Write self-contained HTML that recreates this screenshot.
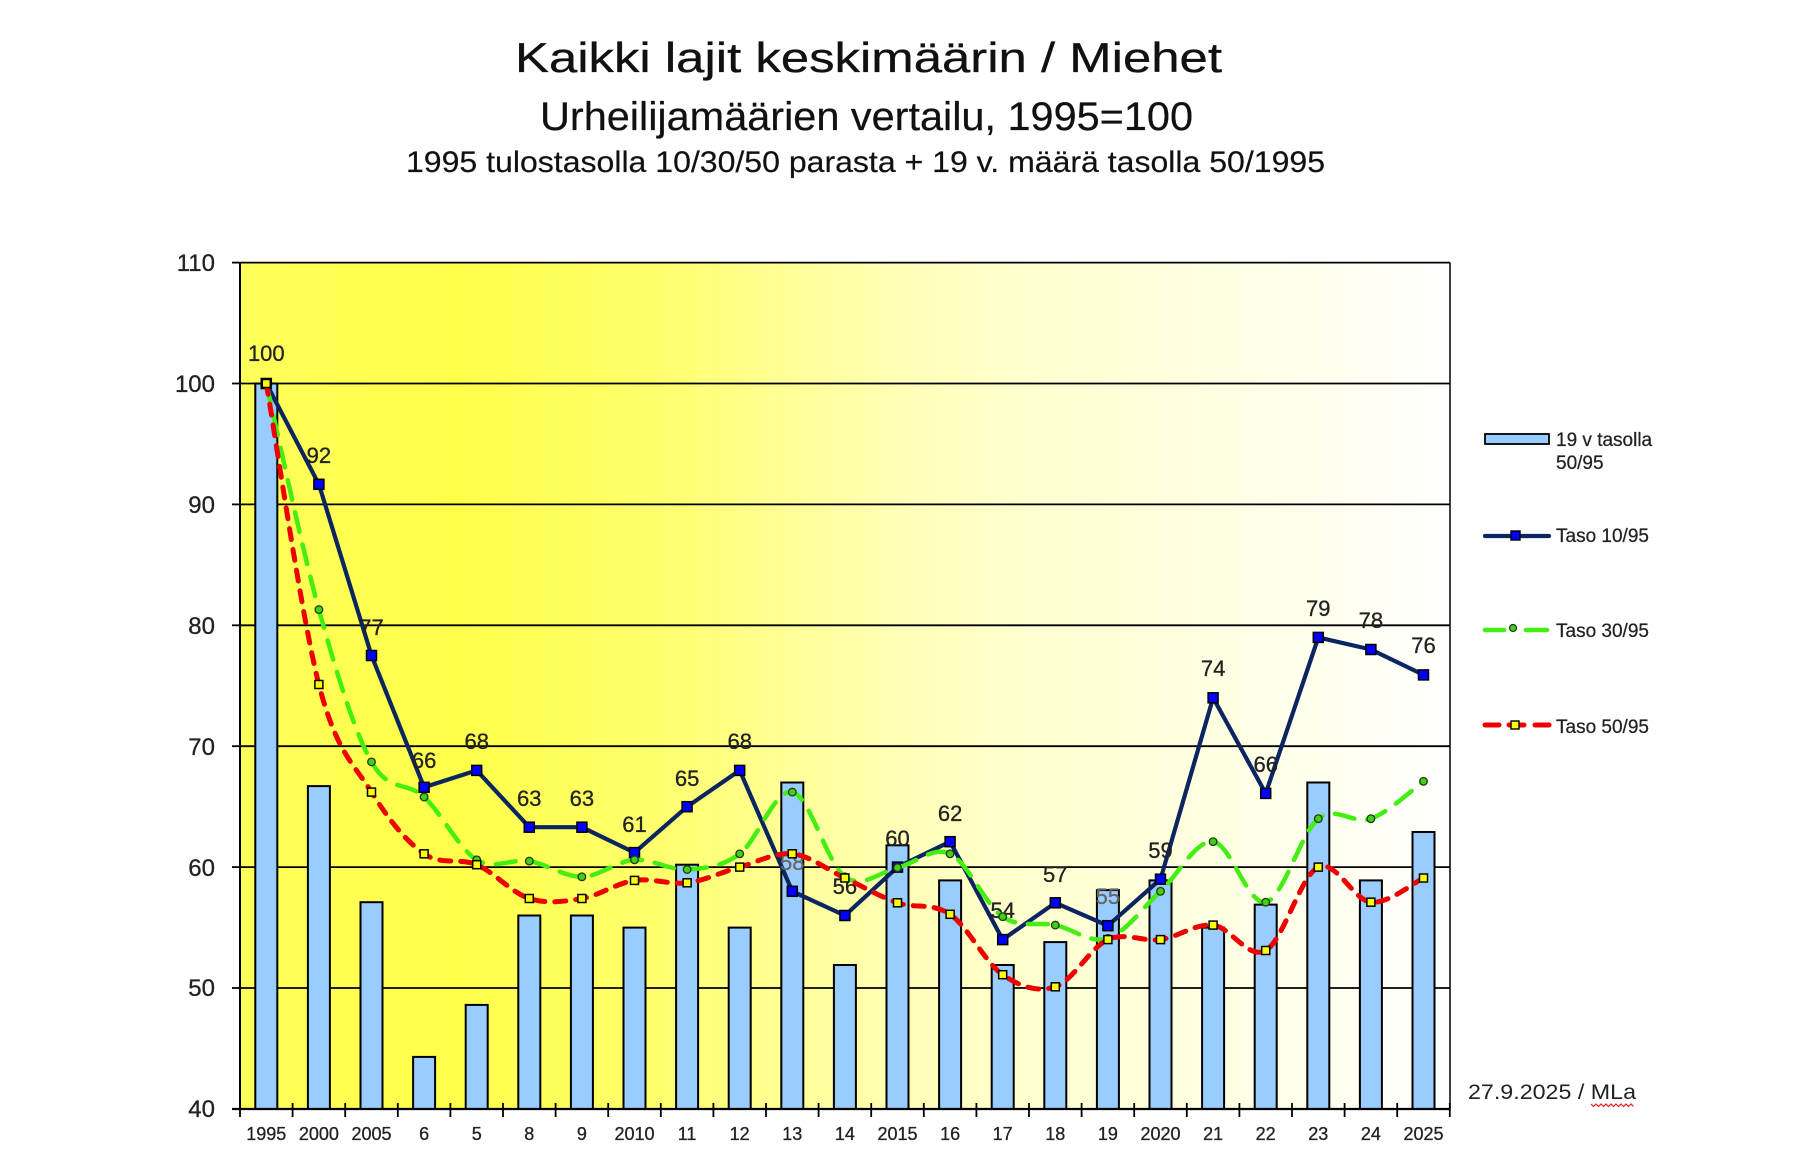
<!DOCTYPE html>
<html>
<head>
<meta charset="utf-8">
<style>
html,body{margin:0;padding:0;background:#fff;}
svg{display:block;}
text{font-family:"Liberation Sans",Arial,sans-serif;}
</style>
</head>
<body>
<svg width="1794" height="1165" viewBox="0 0 1794 1165" xmlns="http://www.w3.org/2000/svg">
<defs>
<linearGradient id="bg" x1="0" y1="0" x2="1" y2="0">
<stop offset="0" stop-color="#FFFF5A"/>
<stop offset="0.18" stop-color="#FFFF4A"/>
<stop offset="0.35" stop-color="#FFFF6E"/>
<stop offset="0.45" stop-color="#FFFF96"/>
<stop offset="0.55" stop-color="#FFFFB8"/>
<stop offset="0.65" stop-color="#FFFFCF"/>
<stop offset="0.78" stop-color="#FFFFDF"/>
<stop offset="0.9" stop-color="#FFFFEF"/>
<stop offset="1" stop-color="#FFFFFF"/>
</linearGradient>
</defs>

<!-- Titles -->
<text x="515" y="72" font-size="42" fill="#111" stroke="#111" stroke-width="0.3" textLength="707" lengthAdjust="spacingAndGlyphs">Kaikki lajit keskimäärin / Miehet</text>
<text x="540" y="130" font-size="40" fill="#111" stroke="#111" stroke-width="0.25" textLength="653" lengthAdjust="spacingAndGlyphs">Urheilijamäärien vertailu, 1995=100</text>
<text x="406" y="172" font-size="30" fill="#111" stroke="#111" stroke-width="0.2" textLength="919" lengthAdjust="spacingAndGlyphs">1995 tulostasolla 10/30/50 parasta + 19 v. määrä tasolla 50/1995</text>

<!-- Plot background -->
<rect x="240" y="262.6" width="1210" height="846.4" fill="url(#bg)"/>

<!-- Gridlines -->
<g stroke="#000" stroke-width="1.8">
<line x1="240" y1="262.6" x2="1450" y2="262.6"/>
<line x1="240" y1="383.5" x2="1450" y2="383.5"/>
<line x1="240" y1="504.4" x2="1450" y2="504.4"/>
<line x1="240" y1="625.3" x2="1450" y2="625.3"/>
<line x1="240" y1="746.2" x2="1450" y2="746.2"/>
<line x1="240" y1="867.1" x2="1450" y2="867.1"/>
<line x1="240" y1="988.0" x2="1450" y2="988.0"/>
</g>
<line x1="1450" y1="262.6" x2="1450" y2="1109" stroke="#000" stroke-width="1.5"/>

<!-- Bars -->
<g fill="#99CCFF" stroke="#000" stroke-width="2">
<rect x="255.3" y="383.5" width="22" height="725.5"/>
<rect x="307.9" y="786.1" width="22" height="322.9"/>
<rect x="360.5" y="902.2" width="22" height="206.8"/>
<rect x="413.1" y="1056.9" width="22" height="52.1"/>
<rect x="465.7" y="1004.9" width="22" height="104.1"/>
<rect x="518.3" y="915.5" width="22" height="193.5"/>
<rect x="570.9" y="915.5" width="22" height="193.5"/>
<rect x="623.5" y="927.6" width="22" height="181.4"/>
<rect x="676.1" y="864.7" width="22" height="244.3"/>
<rect x="728.7" y="927.6" width="22" height="181.4"/>
<rect x="781.3" y="782.5" width="22" height="326.5"/>
<rect x="833.9" y="965.0" width="22" height="144.0"/>
<rect x="886.5" y="845.3" width="22" height="263.7"/>
<rect x="939.1" y="880.4" width="22" height="228.6"/>
<rect x="991.7" y="965.0" width="22" height="144.0"/>
<rect x="1044.3" y="942.1" width="22" height="166.9"/>
<rect x="1096.9" y="890.1" width="22" height="218.9"/>
<rect x="1149.5" y="880.4" width="22" height="228.6"/>
<rect x="1202.1" y="927.6" width="22" height="181.4"/>
<rect x="1254.7" y="904.6" width="22" height="204.4"/>
<rect x="1307.3" y="782.5" width="22" height="326.5"/>
<rect x="1359.9" y="880.4" width="22" height="228.6"/>
<rect x="1412.5" y="832.0" width="22" height="277.0"/>
</g>

<!-- Axes -->
<line x1="240" y1="262.6" x2="240" y2="1109" stroke="#000" stroke-width="2"/>
<line x1="232" y1="1109" x2="1450" y2="1109" stroke="#000" stroke-width="2.2"/>
<g stroke="#000" stroke-width="1.8">
<line x1="232" y1="262.6" x2="240" y2="262.6"/>
<line x1="232" y1="383.5" x2="240" y2="383.5"/>
<line x1="232" y1="504.4" x2="240" y2="504.4"/>
<line x1="232" y1="625.3" x2="240" y2="625.3"/>
<line x1="232" y1="746.2" x2="240" y2="746.2"/>
<line x1="232" y1="867.1" x2="240" y2="867.1"/>
<line x1="232" y1="988.0" x2="240" y2="988.0"/>
<line x1="240" y1="1103" x2="240" y2="1117"/>
<line x1="292.6" y1="1103" x2="292.6" y2="1117"/>
<line x1="345.2" y1="1103" x2="345.2" y2="1117"/>
<line x1="397.8" y1="1103" x2="397.8" y2="1117"/>
<line x1="450.4" y1="1103" x2="450.4" y2="1117"/>
<line x1="503" y1="1103" x2="503" y2="1117"/>
<line x1="555.6" y1="1103" x2="555.6" y2="1117"/>
<line x1="608.2" y1="1103" x2="608.2" y2="1117"/>
<line x1="660.8" y1="1103" x2="660.8" y2="1117"/>
<line x1="713.4" y1="1103" x2="713.4" y2="1117"/>
<line x1="766" y1="1103" x2="766" y2="1117"/>
<line x1="818.6" y1="1103" x2="818.6" y2="1117"/>
<line x1="871.2" y1="1103" x2="871.2" y2="1117"/>
<line x1="923.8" y1="1103" x2="923.8" y2="1117"/>
<line x1="976.4" y1="1103" x2="976.4" y2="1117"/>
<line x1="1029" y1="1103" x2="1029" y2="1117"/>
<line x1="1081.6" y1="1103" x2="1081.6" y2="1117"/>
<line x1="1134.2" y1="1103" x2="1134.2" y2="1117"/>
<line x1="1186.8" y1="1103" x2="1186.8" y2="1117"/>
<line x1="1239.4" y1="1103" x2="1239.4" y2="1117"/>
<line x1="1292" y1="1103" x2="1292" y2="1117"/>
<line x1="1344.6" y1="1103" x2="1344.6" y2="1117"/>
<line x1="1397.2" y1="1103" x2="1397.2" y2="1117"/>
<line x1="1449.8" y1="1103" x2="1449.8" y2="1117"/>
</g>

<!-- Y labels -->
<g font-size="24" fill="#222" stroke="#222" stroke-width="0.3" text-anchor="end">
<text x="215" y="271">110</text>
<text x="215" y="392">100</text>
<text x="215" y="513">90</text>
<text x="215" y="634">80</text>
<text x="215" y="755">70</text>
<text x="215" y="876">60</text>
<text x="215" y="996">50</text>
<text x="215" y="1117">40</text>
</g>

<!-- X labels -->
<g font-size="18" fill="#222" stroke="#222" stroke-width="0.3" text-anchor="middle">
<text x="266.3" y="1140">1995</text>
<text x="318.9" y="1140">2000</text>
<text x="371.5" y="1140">2005</text>
<text x="424.1" y="1140">6</text>
<text x="476.7" y="1140">5</text>
<text x="529.3" y="1140">8</text>
<text x="581.9" y="1140">9</text>
<text x="634.5" y="1140">2010</text>
<text x="687.1" y="1140">11</text>
<text x="739.7" y="1140">12</text>
<text x="792.3" y="1140">13</text>
<text x="844.9" y="1140">14</text>
<text x="897.5" y="1140">2015</text>
<text x="950.1" y="1140">16</text>
<text x="1002.7" y="1140">17</text>
<text x="1055.3" y="1140">18</text>
<text x="1107.9" y="1140">19</text>
<text x="1160.5" y="1140">2020</text>
<text x="1213.1" y="1140">21</text>
<text x="1265.7" y="1140">22</text>
<text x="1318.3" y="1140">23</text>
<text x="1370.9" y="1140">24</text>
<text x="1423.5" y="1140">2025</text>
</g>

<!-- Blue series: Taso 10/95 -->
<polyline fill="none" stroke="#0A2560" stroke-width="4.2" stroke-linejoin="round" points="266.3,383.5 318.9,484.3 371.5,655.5 424.1,787.3 476.7,770.4 529.3,827.2 581.9,827.2 634.5,852.6 687.1,806.7 739.7,770.4 792.3,891.3 844.9,915.5 897.5,867.1 950.1,841.7 1002.7,939.6 1055.3,902.8 1107.9,925.7 1160.5,879.2 1213.1,697.8 1265.7,793.4 1318.3,637.4 1370.9,649.5 1423.5,674.9"/>
<g fill="#0000FF" stroke="#000" stroke-width="1.5">
<rect x="261.3" y="378.5" width="10" height="10"/>
<rect x="313.9" y="479.3" width="10" height="10"/>
<rect x="366.5" y="650.5" width="10" height="10"/>
<rect x="419.1" y="782.3" width="10" height="10"/>
<rect x="471.7" y="765.4" width="10" height="10"/>
<rect x="524.3" y="822.2" width="10" height="10"/>
<rect x="576.9" y="822.2" width="10" height="10"/>
<rect x="629.5" y="847.6" width="10" height="10"/>
<rect x="682.1" y="801.7" width="10" height="10"/>
<rect x="734.7" y="765.4" width="10" height="10"/>
<rect x="787.3" y="886.3" width="10" height="10"/>
<rect x="839.9" y="910.5" width="10" height="10"/>
<rect x="892.5" y="862.1" width="10" height="10"/>
<rect x="945.1" y="836.7" width="10" height="10"/>
<rect x="997.7" y="934.6" width="10" height="10"/>
<rect x="1050.3" y="897.8" width="10" height="10"/>
<rect x="1102.9" y="920.7" width="10" height="10"/>
<rect x="1155.5" y="874.2" width="10" height="10"/>
<rect x="1208.1" y="692.8" width="10" height="10"/>
<rect x="1260.7" y="788.4" width="10" height="10"/>
<rect x="1313.3" y="632.4" width="10" height="10"/>
<rect x="1365.9" y="644.5" width="10" height="10"/>
<rect x="1418.5" y="669.9" width="10" height="10"/>
</g>

<!-- Data labels -->
<g font-size="22" fill="#222" stroke="#222" stroke-width="0.3" text-anchor="middle">
<text x="266.3" y="361">100</text>
<text x="318.9" y="463">92</text>
<text x="371.5" y="635">77</text>
<text x="424.1" y="768">66</text>
<text x="476.7" y="749">68</text>
<text x="529.3" y="806">63</text>
<text x="581.9" y="806">63</text>
<text x="634.5" y="832">61</text>
<text x="687.1" y="786">65</text>
<text x="739.7" y="749">68</text>
<text x="792.3" y="870" fill="#666" stroke="#666">58</text>
<text x="844.9" y="894">56</text>
<text x="897.5" y="846">60</text>
<text x="950.1" y="821">62</text>
<text x="1002.7" y="918">54</text>
<text x="1055.3" y="882">57</text>
<text x="1107.9" y="904" fill="#666" stroke="#666">55</text>
<text x="1160.5" y="858">59</text>
<text x="1213.1" y="676">74</text>
<text x="1265.7" y="772">66</text>
<text x="1318.3" y="616">79</text>
<text x="1370.9" y="628">78</text>
<text x="1423.5" y="653">76</text>
</g>

<!-- Green series: Taso 30/95 -->
<path fill="none" stroke="#44EE11" stroke-width="4.5" stroke-linecap="round" stroke-dasharray="20 13"
d="M266.3,383.5 C275.07,421.18 301.37,546.53 318.9,609.6 C336.43,672.67 353.97,730.67 371.5,761.9 C389.03,793.13 406.57,780.68 424.1,797.0 C441.63,813.32 459.17,849.12 476.7,859.8 C494.23,870.48 511.77,858.27 529.3,861.1 C546.83,863.93 564.37,877.02 581.9,876.8 C599.43,876.58 616.97,861.02 634.5,859.8 C652.03,858.58 669.57,870.5 687.1,869.5 C704.63,868.5 722.17,866.7 739.7,853.8 C757.23,840.9 774.77,788.27 792.3,792.1 C809.83,795.93 827.37,864.2 844.9,876.8 C862.43,889.4 879.97,871.53 897.5,867.7 C915.03,863.87 932.57,845.63 950.1,853.8 C967.63,861.97 985.17,904.82 1002.7,916.7 C1020.23,928.58 1037.77,921.48 1055.3,925.1 C1072.83,928.72 1090.37,944.03 1107.9,938.4 C1125.43,932.77 1142.97,907.42 1160.5,891.3 C1178.03,875.18 1195.57,839.88 1213.1,841.7 C1230.63,843.52 1248.17,906.03 1265.7,902.2 C1283.23,898.37 1300.77,832.62 1318.3,818.7 C1335.83,804.78 1353.37,824.93 1370.9,818.7 C1388.43,812.47 1414.73,787.53 1423.5,781.3"/>
<g fill="#44CC22" stroke="#1A4000" stroke-width="1.3">
<circle cx="266.3" cy="383.5" r="3.8"/>
<circle cx="318.9" cy="609.6" r="3.8"/>
<circle cx="371.5" cy="761.9" r="3.8"/>
<circle cx="424.1" cy="797.0" r="3.8"/>
<circle cx="476.7" cy="859.8" r="3.8"/>
<circle cx="529.3" cy="861.1" r="3.8"/>
<circle cx="581.9" cy="876.8" r="3.8"/>
<circle cx="634.5" cy="859.8" r="3.8"/>
<circle cx="687.1" cy="869.5" r="3.8"/>
<circle cx="739.7" cy="853.8" r="3.8"/>
<circle cx="792.3" cy="792.1" r="3.8"/>
<circle cx="844.9" cy="876.8" r="3.8"/>
<circle cx="897.5" cy="867.7" r="3.8"/>
<circle cx="950.1" cy="853.8" r="3.8"/>
<circle cx="1002.7" cy="916.7" r="3.8"/>
<circle cx="1055.3" cy="925.1" r="3.8"/>
<circle cx="1107.9" cy="938.4" r="3.8"/>
<circle cx="1160.5" cy="891.3" r="3.8"/>
<circle cx="1213.1" cy="841.7" r="3.8"/>
<circle cx="1265.7" cy="902.2" r="3.8"/>
<circle cx="1318.3" cy="818.7" r="3.8"/>
<circle cx="1370.9" cy="818.7" r="3.8"/>
<circle cx="1423.5" cy="781.3" r="3.8"/>
</g>

<!-- Red series: Taso 50/95 -->
<path fill="none" stroke="#EE0000" stroke-width="5" stroke-linecap="round" stroke-dasharray="11 10"
d="M266.3,383.5 C275.07,433.67 301.37,616.4 318.9,684.5 C336.43,752.6 353.97,763.88 371.5,792.1 C389.03,820.32 406.57,841.7 424.1,853.8 C441.63,865.9 459.17,857.25 476.7,864.7 C494.23,872.15 511.77,892.87 529.3,898.5 C546.83,904.13 564.37,901.52 581.9,898.5 C599.43,895.48 616.97,883.02 634.5,880.4 C652.03,877.78 669.57,885.02 687.1,882.8 C704.63,880.58 722.17,871.93 739.7,867.1 C757.23,862.27 774.77,851.98 792.3,853.8 C809.83,855.62 827.37,869.83 844.9,878.0 C862.43,886.17 879.97,896.75 897.5,902.8 C915.03,908.85 932.57,902.32 950.1,914.3 C967.63,926.28 985.17,962.62 1002.7,974.7 C1020.23,986.78 1037.77,992.65 1055.3,986.8 C1072.83,980.95 1090.37,947.47 1107.9,939.6 C1125.43,931.73 1142.97,942.02 1160.5,939.6 C1178.03,937.18 1195.57,923.28 1213.1,925.1 C1230.63,926.92 1248.17,960.17 1265.7,950.5 C1283.23,940.83 1300.77,875.15 1318.3,867.1 C1335.83,859.05 1353.37,900.38 1370.9,902.2 C1388.43,904.02 1414.73,882.03 1423.5,878.0"/>
<g fill="#FFFF00" stroke="#000" stroke-width="1.5">
<rect x="262.3" y="379.5" width="8" height="8"/>
<rect x="314.9" y="680.5" width="8" height="8"/>
<rect x="367.5" y="788.1" width="8" height="8"/>
<rect x="420.1" y="849.8" width="8" height="8"/>
<rect x="472.7" y="860.7" width="8" height="8"/>
<rect x="525.3" y="894.5" width="8" height="8"/>
<rect x="577.9" y="894.5" width="8" height="8"/>
<rect x="630.5" y="876.4" width="8" height="8"/>
<rect x="683.1" y="878.8" width="8" height="8"/>
<rect x="735.7" y="863.1" width="8" height="8"/>
<rect x="788.3" y="849.8" width="8" height="8"/>
<rect x="840.9" y="874.0" width="8" height="8"/>
<rect x="893.5" y="898.8" width="8" height="8"/>
<rect x="946.1" y="910.3" width="8" height="8"/>
<rect x="998.7" y="970.7" width="8" height="8"/>
<rect x="1051.3" y="982.8" width="8" height="8"/>
<rect x="1103.9" y="935.6" width="8" height="8"/>
<rect x="1156.5" y="935.6" width="8" height="8"/>
<rect x="1209.1" y="921.1" width="8" height="8"/>
<rect x="1261.7" y="946.5" width="8" height="8"/>
<rect x="1314.3" y="863.1" width="8" height="8"/>
<rect x="1366.9" y="898.2" width="8" height="8"/>
<rect x="1419.5" y="874.0" width="8" height="8"/>
</g>

<!-- Legend -->
<rect x="1485" y="434" width="64" height="10" fill="#99CCFF" stroke="#000" stroke-width="1.8"/>
<g font-size="19" fill="#222" stroke="#222" stroke-width="0.25">
<text x="1556" y="446">19 v tasolla</text>
<text x="1556" y="469">50/95</text>
<text x="1556" y="542">Taso 10/95</text>
<text x="1556" y="637">Taso 30/95</text>
<text x="1556" y="733">Taso 50/95</text>
</g>
<line x1="1485" y1="536" x2="1549" y2="536" stroke="#0A2560" stroke-width="4.2" stroke-linecap="round"/>
<rect x="1511" y="531" width="9" height="9" fill="#0000FF" stroke="#000" stroke-width="1.4"/>
<line x1="1485" y1="630" x2="1504" y2="630" stroke="#44EE11" stroke-width="4.5" stroke-linecap="round"/>
<line x1="1526" y1="630" x2="1547" y2="630" stroke="#44EE11" stroke-width="4.5" stroke-linecap="round"/>
<circle cx="1513" cy="628" r="3.5" fill="#44CC22" stroke="#1A4000" stroke-width="1.3"/>
<line x1="1485" y1="725" x2="1499" y2="725" stroke="#EE0000" stroke-width="5" stroke-linecap="round"/>
<line x1="1509" y1="725" x2="1524" y2="725" stroke="#EE0000" stroke-width="5" stroke-linecap="round"/>
<line x1="1535" y1="725" x2="1549" y2="725" stroke="#EE0000" stroke-width="5" stroke-linecap="round"/>
<rect x="1511" y="721" width="8" height="8" fill="#FFFF00" stroke="#000" stroke-width="1.4"/>

<!-- Date -->
<text x="1468" y="1099" font-size="21" fill="#222" textLength="168" lengthAdjust="spacingAndGlyphs">27.9.2025 / MLa</text>
<path d="M1591,1104 l2.5,2.5 l2.5,-2.5 l2.5,2.5 l2.5,-2.5 l2.5,2.5 l2.5,-2.5 l2.5,2.5 l2.5,-2.5 l2.5,2.5 l2.5,-2.5 l2.5,2.5 l2.5,-2.5 l2.5,2.5 l2.5,-2.5 l2.5,2.5 l2.5,-2.5 l2.5,2.5" fill="none" stroke="#E02020" stroke-width="1.2"/>
</svg>
</body>
</html>
